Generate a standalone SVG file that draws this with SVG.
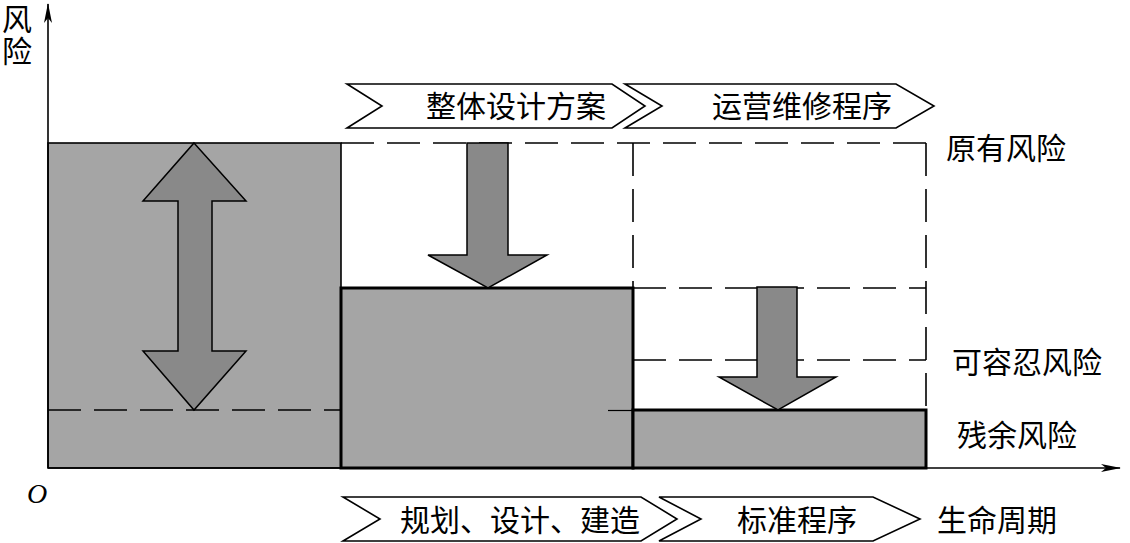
<svg xmlns="http://www.w3.org/2000/svg" width="1130" height="543" viewBox="0 0 1130 543">
<style>
.t{font-family:"Liberation Serif","Noto Sans CJK SC",serif;font-size:30px;fill:#000}
.c{text-anchor:middle}
.dash{fill:none;stroke:#000;stroke-width:1.6;stroke-dasharray:33 13}
.box{fill:#a5a5a5;stroke:#000}
.arr{fill:#898989;stroke:#000;stroke-width:1.5;stroke-linejoin:miter}
.chev{fill:#fff;stroke:#000;stroke-width:1.6}
</style>
<defs>
<marker id="ah" markerWidth="20" markerHeight="10" refX="19" refY="5" orient="auto" markerUnits="userSpaceOnUse">
<path d="M0,1 L20,5 L0,9 L5,5 Z" fill="#000"/>
</marker>
</defs>
<rect width="1130" height="543" fill="#fff"/>

<g id="risk-bars">
<rect class="box" x="48" y="143" width="293" height="325" stroke-width="1.6"/>
<rect class="box" x="341" y="288" width="292" height="180" stroke-width="3"/>
<rect class="box" x="633" y="410" width="293" height="58" stroke-width="3"/>
</g>

<g id="guides">
<path class="dash" d="M341,143 H926"/>
<path class="dash" d="M633,143 V288"/>
<path class="dash" d="M926,143 V410"/>
<path class="dash" d="M633,288 H926"/>
<path class="dash" d="M633,360 H926"/>
<path class="dash" d="M48,410 H341"/>
<path d="M608,410.5 H633" stroke="#000" stroke-width="1.2"/>
</g>

<g id="axes">
<path d="M48,468 V4" stroke="#000" stroke-width="1.6" marker-end="url(#ah)"/>
<path d="M48,468 H1120" stroke="#000" stroke-width="1.6" marker-end="url(#ah)"/>
<text class="t" x="2" y="30" font-size="28">风</text>
<text class="t" x="2" y="62" font-size="28">险</text>
<text x="27" y="503" font-family="Liberation Serif" font-style="italic" font-size="28">O</text>
</g>

<g id="connectors">
<polygon class="arr" points="194,143 246,201 212,201 212,351 246,351 194,410 143,351 178,351 178,201 143,201"/>
<polygon class="arr" points="467,143 508,143 508,255 547,255 488,288 428,255 467,255"/>
<polygon class="arr" points="757,287 797,287 797,377 836,377 778,410 719,377 757,377"/>
</g>

<g id="phase-design">
<polygon class="chev" points="347,84 612,84 645,106 612,128 347,128 382,106"/>
<text class="t c" x="516" y="117">整体设计方案</text>
</g>
<g id="phase-ops">
<polygon class="chev" points="625,84 896,84 934,106 896,128 625,128 662,106"/>
<text class="t c" x="802" y="117">运营维修程序</text>
</g>
<g id="phase-build">
<polygon class="chev" points="343,497 641,497 677,519 641,541 343,541 380,519"/>
<text class="t c" x="520" y="531">规划、设计、建造</text>
</g>
<g id="phase-standard">
<polygon class="chev" points="659,497 873,497 920,519 873,541 659,541 701,519"/>
<text class="t c" x="797" y="531">标准程序</text>
</g>

<g id="labels">
<text class="t" x="946" y="159">原有风险</text>
<text class="t" x="952" y="373">可容忍风险</text>
<text class="t" x="957" y="446">残余风险</text>
<text class="t" x="937" y="531">生命周期</text>
</g>
</svg>
